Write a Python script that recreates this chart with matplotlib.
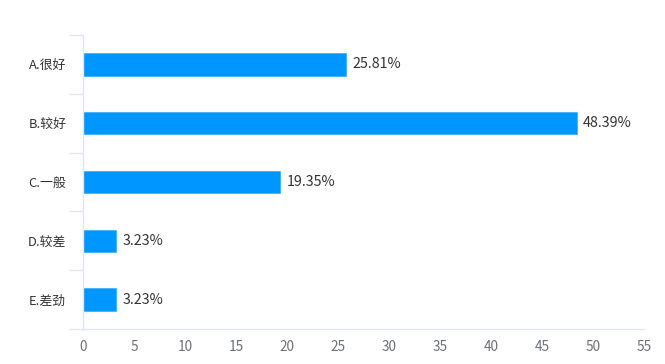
import numpy as np
import matplotlib.pyplot as plt

plt.rcParams['font.family'] = ['Noto Sans CJK SC', 'DejaVu Sans']

categories = ['A.很好', 'B.较好', 'C.一般', 'D.较差', 'E.差劲']
percents = [25.81, 48.39, 19.35, 3.23, 3.23]
xticks = [0, 5, 10, 15, 20, 25, 30, 35, 40, 45, 50, 55]

fig = plt.figure(figsize=(6.65, 3.64), dpi=100)
ax = fig.add_axes([83/665, 1-329/364, (644-83)/665, (329-35)/364])

y = np.arange(len(categories))
ax.barh(y, percents, height=0.38, color='#0096ff', edgecolor='#3aaaff', linewidth=0.5)
for yi, v in zip(y, percents):
    ax.text(v + 0.65, yi, '%.2f%%' % v, va='center', ha='left', fontsize=10.3, color='#333333')

ax.set_ylim(len(categories) - 0.5, -0.5)
ax.set_xlim(0, 55)
ax.set_xticks(xticks)
ax.set_yticks(y)
ax.set_yticklabels(categories)
ax.set_yticks(np.arange(-0.5, len(categories)), minor=True)

ax.tick_params(axis='y', which='major', length=0, pad=12, labelsize=9.3, labelcolor='#333333')
ax.tick_params(axis='y', which='minor', length=10, width=1, color='#e0e6f1')
ax.tick_params(axis='x', length=0, pad=8, labelsize=9.8, labelcolor='#6e7079')

for s in ['top', 'right']:
    ax.spines[s].set_visible(False)
for s in ['left', 'bottom']:
    ax.spines[s].set_color('#e0e6f1')
    ax.spines[s].set_linewidth(1)

fig.savefig('out.png', dpi=100)
